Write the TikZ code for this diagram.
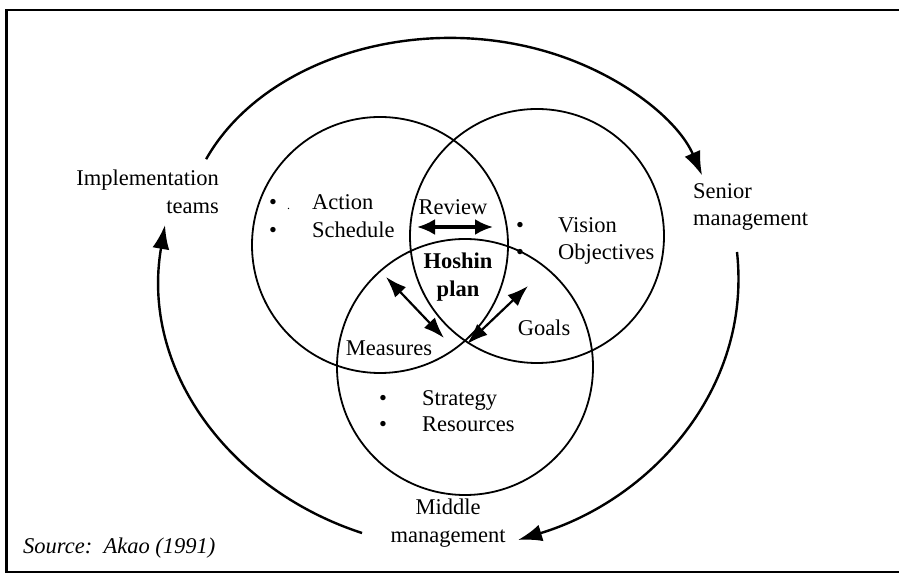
\documentclass[tikz,border=0pt]{standalone}
\usepackage{fontspec}
\setmainfont{Liberation Serif}
\usetikzlibrary{arrows.meta}
\begin{document}
\begin{tikzpicture}[x=1pt,y=1pt,
  lbl/.style={inner sep=0pt, font=\fontsize{22.5}{27.5}\selectfont},
  venn/.style={circle, draw, line width=1.8pt, inner sep=0pt, minimum size=#1},
  cyclearrow/.style={line width=2.4pt, -{Latex[length=24pt,width=17pt]}},
  dbl/.style={line width=2.2pt, {Latex[length=21pt,width=15pt]}-{Latex[length=21pt,width=15pt]}},
  frameline/.style={line width=2.5pt}]
\useasboundingbox (0,0) rectangle (899,575);
% frame (open on the right)
\draw[frameline] (899,565) -- (6.5,565) -- (6.5,3) -- (899,3);
% Venn circles
\node[venn=256pt] (cact) at (380,330) {};
\node[venn=254pt] (cvis) at (537,339) {};
\node[venn=256pt] (cstr) at (465,208) {};
% outer labels
\node[lbl, anchor=east, align=right] (impl) at (219,383) {Implementation\\teams};
\node[lbl, anchor=west, align=left] (senior) at (693,368) {Senior\\management};
\node[lbl, align=center] (middle) at (448,52) {Middle\\management};
\node[lbl, anchor=west, font=\fontsize{22.5}{27.5}\selectfont\itshape] (src) at (23,27) {Source:\ \ Akao (1991)};
% inner labels
\node[lbl, anchor=west, align=left] (action) at (269,359)
  {\makebox[43pt][l]{•\hspace{10pt}{\fontsize{12}{12}\selectfont .}}Action\\\makebox[43pt][l]{•}Schedule};
\node[lbl, anchor=west, align=left] (vision) at (516,334)
  {\makebox[42pt][l]{•}Vision\\\makebox[42pt][l]{•}Objectives};
\node[lbl, anchor=west, align=left, font=\fontsize{22.5}{25.5}\selectfont] (strategy) at (379,164)
  {\makebox[43pt][l]{•}Strategy\\\makebox[43pt][l]{•}Resources};
\node[lbl] (review) at (453,368) {Review};
\node[lbl, align=center, font=\fontsize{22.5}{28.5}\selectfont\bfseries] (hoshin) at (458,298) {Hoshin\\plan};
\node[lbl] (goals) at (544,247) {Goals};
\node[lbl] (measures) at (389,227) {Measures};
% double arrows
\coordinate (revL) at (417,348);
\coordinate (revR) at (493,348);
\coordinate (meaA) at (386,298);
\coordinate (meaB) at (444,237);
\coordinate (goaA) at (528,289);
\coordinate (goaB) at (467,231);
\draw[line width=3.2pt, {Latex[length=18pt,width=16pt]}-{Latex[length=18pt,width=16pt]}] (revL) -- (revR);
\draw[dbl] (meaA) -- (meaB);
\draw[dbl] (goaA) -- (goaB);
% cycle arrows
\coordinate (topS) at (206.1,415.8);
\coordinate (topE) at (702,399.5);
\coordinate (rgtS) at (737,323);
\coordinate (rgtE) at (518,35);
\coordinate (lftS) at (362,42);
\coordinate (lftE) at (165,350);
\draw[cyclearrow] (topS) arc[start angle=157, end angle=18, x radius=265, y radius=199];
\draw[cyclearrow] (rgtS) .. controls (752,185) and (650,75) .. (rgtE);
\draw[cyclearrow] (lftS) .. controls (230,85) and (140,205) .. (lftE);
\end{tikzpicture}
\end{document}
